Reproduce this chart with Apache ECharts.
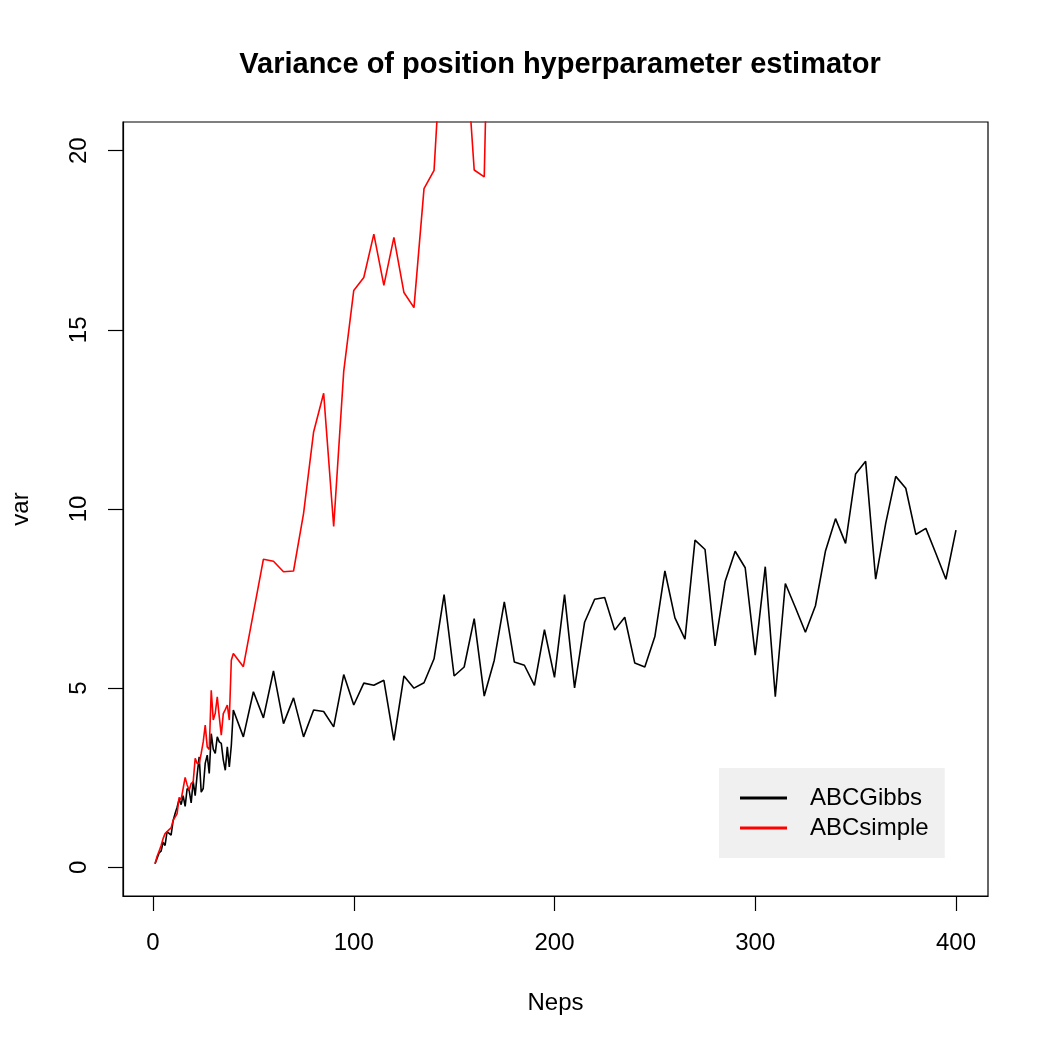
<!DOCTYPE html>
<html>
<head>
<meta charset="utf-8">
<script src="https://cdn.jsdelivr.net/npm/echarts@6/dist/echarts.min.js"></script>
<style>
  html, body { margin: 0; padding: 0; background: #fff; }
  #chart { width: 1050px; height: 1050px; }
</style>
</head>
<body>
<div id="chart"></div>
<script>
// Neps values: every step up to 40, then every 5
var nepsFine = [1, 2, 3, 4, 5, 6, 7, 8, 9, 10, 11, 12, 13, 14, 15, 16, 17, 18, 19, 20,
  21, 22, 23, 24, 25, 26, 27, 28, 29, 30, 31, 32, 33, 34, 35, 36, 37, 38, 39, 40];
var nepsCoarse = [45, 50, 55, 60, 65, 70, 75, 80, 85, 90, 95, 100, 105, 110, 115, 120,
  125, 130, 135, 140, 145, 150, 155, 160, 165, 170, 175, 180, 185, 190, 195, 200,
  205, 210, 215, 220, 225, 230, 235, 240, 245, 250, 255, 260, 265, 270, 275, 280,
  285, 290, 295, 300, 305, 310, 315, 320, 325, 330, 335, 340, 345, 350, 355, 360,
  365, 370, 375, 380, 385, 390, 395, 400];

var gibbsVar = [0.10, 0.25, 0.40, 0.45, 0.70, 0.61, 1.00, 0.95, 0.90, 1.30,
  1.50, 1.68, 1.90, 1.75, 2.00, 1.70, 2.20, 2.15, 1.80, 2.40,
  2.00, 2.60, 3.08, 2.10, 2.20, 2.90, 3.13, 2.62, 3.73, 3.30,
  3.18, 3.64, 3.50, 3.46, 3.00, 2.71, 3.36, 2.80, 3.40, 4.39,
  3.64, 4.90, 4.17, 5.48, 4.01, 4.73, 3.64, 4.39, 4.35, 3.92,
  5.38, 4.53, 5.14, 5.08, 5.22, 3.54, 5.34, 5.00, 5.15, 5.82,
  7.61, 5.34, 5.59, 6.94, 4.78, 5.78, 7.41, 5.73, 5.64, 5.08,
  6.63, 5.30, 7.61, 5.01, 6.84, 7.48, 7.53, 6.62, 6.98, 5.70,
  5.59, 6.44, 8.27, 6.96, 6.37, 9.13, 8.87, 6.18, 7.98, 8.82,
  8.36, 5.92, 8.39, 4.76, 7.92, 7.25, 6.56, 7.30, 8.83, 9.73,
  9.04, 10.98, 11.33, 8.04, 9.60, 10.91, 10.58, 9.29, 9.46, 8.76,
  8.04, 9.41];

// ABCsimple runs off the top of the plot after ~165
var simpleVar = [0.10, 0.30, 0.45, 0.60, 0.80, 0.94, 1.00, 1.05, 1.10, 1.31,
  1.40, 1.50, 1.95, 1.89, 2.20, 2.51, 2.30, 2.15, 2.34, 2.38,
  3.04, 2.90, 2.90, 3.18, 3.50, 3.97, 3.36, 3.29, 4.94, 4.11,
  4.30, 4.76, 4.20, 3.69, 4.29, 4.40, 4.53, 4.11, 5.78, 5.97,
  5.60, 7.10, 8.60, 8.54, 8.25, 8.27, 9.88, 12.15, 13.23, 9.51,
  13.84, 16.10, 16.46, 17.67, 16.24, 17.58, 16.04, 15.62, 18.94, 19.45,
  24.3, 26.0, 23.6, 19.46, 19.27, 32.0];

var xTicks = [0, 100, 200, 300, 400];
var yTicks = [0, 5, 10, 15, 20];

var neps = nepsFine.concat(nepsCoarse);
function pairs(xs, ys) {
  return ys.map(function (v, i) { return [xs[i], v]; });
}

var font = 'Liberation Sans, Arial, Helvetica, sans-serif';

var myChart = echarts.init(document.getElementById('chart'));
myChart.setOption({
  animation: false,
  backgroundColor: '#fff',
  title: {
    text: 'Variance of position hyperparameter estimator',
    left: 555,
    top: 45,
    textAlign: 'center',
    textStyle: { fontFamily: font, fontSize: 29, fontWeight: 'bold', color: '#000' }
  },
  grid: {
    left: 123, right: 62, top: 122, bottom: 154,
    show: true, borderColor: '#000', borderWidth: 1.2, backgroundColor: 'transparent'
  },
  legend: {
    data: ['ABCGibbs', 'ABCsimple'],
    orient: 'vertical',
    left: 719,
    top: 768,
    backgroundColor: '#f0f0f0',
    padding: [18, 16, 18, 21],
    itemWidth: 47,
    itemHeight: 3,
    itemGap: 6,
    icon: 'rect',
    textStyle: { fontFamily: font, fontSize: 24, color: '#000', padding: [0, 0, 0, 18] }
  },
  xAxis: {
    type: 'value',
    min: -14.96,
    max: 415.96,
    name: 'Neps',
    nameLocation: 'middle',
    nameGap: 95,
    nameTextStyle: { fontFamily: font, fontSize: 24, color: '#000' },
    axisLine: { show: true, onZero: false, lineStyle: { color: '#000', width: 1.2 } },
    axisTick: { show: true, length: 15, customValues: xTicks, lineStyle: { color: '#000', width: 1.2 } },
    axisLabel: { customValues: xTicks, margin: 35, fontFamily: font, fontSize: 24, color: '#000' },
    splitLine: { show: false }
  },
  yAxis: {
    type: 'value',
    min: -0.8,
    max: 20.8,
    name: 'var',
    nameLocation: 'middle',
    nameGap: 90,
    nameTextStyle: { fontFamily: font, fontSize: 24, color: '#000' },
    axisLine: { show: true, onZero: false, lineStyle: { color: '#000', width: 1.2 } },
    axisTick: { show: true, length: 15, customValues: yTicks, lineStyle: { color: '#000', width: 1.2 } },
    axisLabel: { customValues: yTicks, rotate: 90, margin: 32, fontFamily: font, fontSize: 24, color: '#000' },
    splitLine: { show: false }
  },
  series: [
    {
      name: 'ABCGibbs',
      type: 'line',
      data: pairs(neps, gibbsVar),
      showSymbol: false,
      color: '#000',
      lineStyle: { color: '#000', width: 1.6 }
    },
    {
      name: 'ABCsimple',
      type: 'line',
      data: pairs(neps, simpleVar),
      showSymbol: false,
      clip: true,
      color: '#ff0000',
      lineStyle: { color: '#ff0000', width: 1.6 }
    }
  ]
});
</script>
</body>
</html>
